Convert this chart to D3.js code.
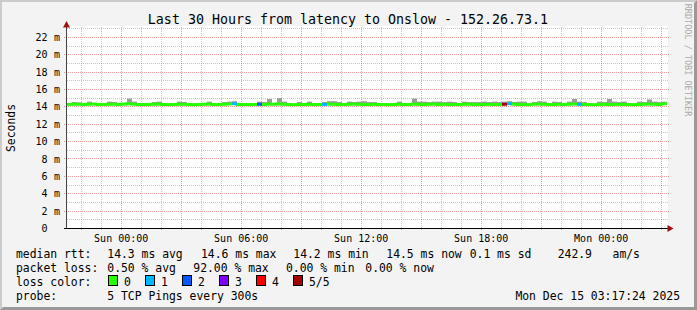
<!DOCTYPE html>
<html>
<head>
<meta charset="utf-8">
<script src="https://cdn.jsdelivr.net/npm/d3@7"></script>
<style>
  body { margin: 0; background: #fff; }
  svg { display: block; font-family: "DejaVu Sans Mono", monospace; }
  text { white-space: pre; }
</style>
</head>
<body>
<svg id="chart" width="697" height="310"></svg>
<script>
// time range of the graph (last 30 hours, 15 min bins)
const endTime = new Date(Date.UTC(2025, 11, 15, 3, 17, 24));
const hoursShown = 30;
const binMinutes = 15;

// median rtt per bin, ms
const median = [
  14.28, 14.30, 14.30, 14.26, 14.30, 14.33, 14.28, 14.26, 14.30, 14.30,
  14.28, 14.33, 14.36, 14.30, 14.28, 14.26, 14.28, 14.30, 14.33, 14.28,
  14.26, 14.28, 14.30, 14.30, 14.26, 14.24, 14.28, 14.30, 14.33, 14.28,
  14.26, 14.30, 14.33, 14.36, 14.28, 14.26, 14.26, 14.28, 14.30, 14.28,
  14.33, 14.30, 14.36, 14.30, 14.26, 14.24, 14.28, 14.26, 14.30, 14.28,
  14.26, 14.28, 14.33, 14.30, 14.28, 14.26, 14.30, 14.33, 14.30, 14.28,
  14.26, 14.30, 14.28, 14.26, 14.24, 14.26, 14.30, 14.28, 14.26, 14.33,
  14.30, 14.28, 14.30, 14.33, 14.28, 14.30, 14.26, 14.28, 14.26, 14.30,
  14.33, 14.28, 14.26, 14.28, 14.30, 14.28, 14.26, 14.30, 14.36, 14.33,
  14.28, 14.26, 14.24, 14.30, 14.33, 14.30, 14.26, 14.28, 14.30, 14.28,
  14.30, 14.33, 14.28, 14.26, 14.26, 14.24, 14.28, 14.30, 14.28, 14.26,
  14.30, 14.28, 14.26, 14.24, 14.28, 14.30, 14.33, 14.30, 14.28, 14.36
];

// slowest ping per bin (top of the smoke), ms
const smokeHi = [
  14.40, 14.55, 14.50, 14.40, 14.60, 14.40, 14.40, 14.40, 14.60, 14.55,
  14.40, 14.40, 14.95, 14.60, 14.40, 14.40, 14.40, 14.55, 14.60, 14.40,
  14.40, 14.40, 14.60, 14.55, 14.40, 14.40, 14.40, 14.40, 14.60, 14.40,
  14.40, 14.55, 14.60, 14.65, 14.40, 14.40, 14.40, 14.40, 14.60, 14.55,
  14.90, 14.40, 15.00, 14.60, 14.40, 14.40, 14.55, 14.40, 14.60, 14.40,
  14.40, 14.55, 14.65, 14.65, 14.55, 14.40, 14.60, 14.55, 14.60, 14.65,
  14.55, 14.55, 14.40, 14.40, 14.40, 14.40, 14.60, 14.40, 14.40, 14.95,
  14.60, 14.60, 14.55, 14.60, 14.60, 14.55, 14.60, 14.55, 14.40, 14.60,
  14.55, 14.55, 14.55, 14.60, 14.55, 14.60, 14.55, 14.60, 14.65, 14.55,
  14.60, 14.60, 14.40, 14.55, 14.65, 14.60, 14.40, 14.60, 14.55, 14.40,
  14.60, 14.90, 14.60, 14.55, 14.40, 14.40, 14.60, 14.55, 14.90, 14.60,
  14.55, 14.60, 14.40, 14.40, 14.60, 14.55, 14.85, 14.60, 14.55, 14.60
];

// lost pings per bin (out of 5), only the non zero ones
const lossBins = [33, 38, 51, 87, 88, 102];
const lossCounts = [1, 2, 1, 5, 1, 1];

const lossLabels = ["0", "1", "2", "3", "4", "5/5"];
const lossColors = ["#26ff00", "#00b8ff", "#0059ff", "#7e00ff", "#ff0000", "#a00000"];

const yTicks = [0, 2, 4, 6, 8, 10, 12, 14, 16, 18, 20, 22];
const yUnits = ["", "m", "m", "m", "m", "m", "m", "m", "m", "m", "m", "m"];
const xLabels = ["Sun 00:00", "Sun 06:00", "Sun 12:00", "Sun 18:00", "Mon 00:00"];

const titleText = "Last 30 Hours from latency to Onslow - 152.26.73.1";
const rttStats = ["14.3 ms avg", "14.6 ms max", "14.2 ms min", "14.5 ms now", "0.1 ms sd", "242.9   am/s"];
const lossStats = ["0.50 % avg", "92.00 % max", "0.00 % min", "0.00 % now"];
const probeText = "5 TCP Pings every 300s";
const stampText = "Mon Dec 15 03:17:24 2025";

const W = 697, H = 310;
const svg = d3.select("#chart");

const startTime = new Date(+endTime - hoursShown * 3600e3);
const x = d3.scaleUtc().domain([startTime, endTime]).range([67, 667]);
const y = d3.scaleLinear().domain([0, 23]).range([228.5, 28.63]);
const crisp = v => Math.round(v - 0.5) + 0.5;

// frame
svg.append("rect").attr("width", W).attr("height", H).attr("fill", "#f3f3f3");
svg.append("path").attr("fill", "#cbcbcb")
  .attr("d", `M0,0H${W}L${W - 2},2H2V${H - 2}L0,${H}Z`);
svg.append("path").attr("fill", "#999")
  .attr("d", `M${W},0V${H}H0L3,${H - 3}H${W - 3}V3Z`);

svg.append("rect").attr("x", 67).attr("y", 26).attr("width", 601).attr("height", 203).attr("fill", "#fff");

// grid
const gridG = svg.append("g").attr("shape-rendering", "crispEdges").attr("stroke-dasharray", "1,1");
const minorCol = "rgba(128,128,128,0.45)", majorCol = "rgba(255,0,0,0.38)";

d3.range(1, 24).filter(v => v % 2 === 1).forEach(v => {
  gridG.append("line").attr("x1", 67).attr("x2", 668)
    .attr("y1", crisp(y(v))).attr("y2", crisp(y(v))).attr("stroke", minorCol);
});
yTicks.filter(v => v > 0).forEach(v => {
  gridG.append("line").attr("x1", 64).attr("x2", 670)
    .attr("y1", crisp(y(v))).attr("y2", crisp(y(v))).attr("stroke", majorCol);
});

const hours = d3.utcHour.every(1).range(startTime, endTime);
hours.forEach(t => {
  const major = t.getUTCHours() % 3 === 0;
  gridG.append("line")
    .attr("x1", crisp(x(t))).attr("x2", crisp(x(t)))
    .attr("y1", 27).attr("y2", major ? 231 : 230)
    .attr("stroke", major ? majorCol : minorCol);
});

// smoke
const binTimes = median.map((_, i) => new Date(+startTime + i * binMinutes * 60e3));
const binEnd = i => new Date(+startTime + (i + 1) * binMinutes * 60e3);

svg.append("g").selectAll("rect").data(median).join("rect")
  .attr("x", (d, i) => x(binTimes[i]))
  .attr("width", (d, i) => x(binEnd(i)) - x(binTimes[i]))
  .attr("y", (d, i) => y(smokeHi[i]))
  .attr("height", (d, i) => y(d) - y(smokeHi[i]))
  .attr("fill", "#9c9c9c");

// median line coloured by loss
const lossOf = i => {
  const k = lossBins.indexOf(i);
  return k < 0 ? 0 : lossCounts[k];
};
const medG = svg.append("g").attr("fill", "none").attr("stroke-width", 3);
median.forEach((d, i) => {
  const prev = i > 0 ? median[i - 1] : d;
  if (lossOf(i) === 0) {
    medG.append("path")
      .attr("d", `M${x(binTimes[i])},${y(prev)}V${y(d)}H${x(binEnd(i))}`)
      .attr("stroke", lossColors[0]);
  }
});
median.forEach((d, i) => {
  if (lossOf(i) > 0) {
    medG.append("path")
      .attr("d", `M${x(binTimes[i])},${y(d)}H${x(binEnd(i))}`)
      .attr("stroke", lossColors[lossOf(i)]);
  }
});

// axes
svg.append("line").attr("x1", 66.5).attr("x2", 66.5).attr("y1", 27).attr("y2", 229)
  .attr("stroke", "#444");
svg.append("line").attr("x1", 64).attr("x2", 668).attr("y1", 228.5).attr("y2", 228.5)
  .attr("stroke", "#000");
svg.append("path").attr("fill", "#a01010").attr("d", "M66.5,21L70,27.5H63Z");
svg.append("path").attr("fill", "#a01010").attr("d", "M673.5,228.5L667.5,225V232Z");

// y labels
const yl = svg.append("g").attr("font-size", 10).attr("fill", "#000");
yTicks.forEach((v, i) => {
  yl.append("text").attr("x", 47.5).attr("y", y(v) + 3.6).attr("text-anchor", "end").text(v);
  if (yUnits[i]) yl.append("text").attr("x", 54).attr("y", y(v) + 3.6).text(yUnits[i]);
});

// x labels
const fmt = d3.utcFormat("%a %H:%M");
d3.utcHour.every(6).range(startTime, endTime).forEach(t => {
  const lab = fmt(t);
  if (xLabels.includes(lab)) {
    svg.append("text").attr("x", x(t)).attr("y", 241.5).attr("text-anchor", "middle")
      .attr("font-size", 10).text(lab);
  }
});

// titles
svg.append("text").attr("x", 348).attr("y", 23.5).attr("text-anchor", "middle")
  .attr("font-size", 13.3).text(titleText);
svg.append("text").attr("transform", "translate(14.5,128) rotate(-90)")
  .attr("text-anchor", "middle").attr("font-size", 11.4).text("Seconds");
svg.append("text").attr("transform", "translate(685,60) rotate(90)")
  .attr("text-anchor", "middle").attr("font-size", 8.5).attr("fill", "#aaa")
  .text("RRDTOOL / TOBI OETIKER");

// legend
const lg = svg.append("g").attr("font-size", 11.4).attr("fill", "#000");
const put = (tx, px, py, anchor) =>
  lg.append("text").attr("x", px).attr("y", py).attr("text-anchor", anchor || "start").text(tx);

put("median rtt:", 16, 258);
[107.3, 201, 293.3, 386.3, 469.7, 557.7].forEach((px, i) => put(rttStats[i], px, 258));

put("packet loss:", 16, 272);
[107.3, 193.3, 286, 365.3].forEach((px, i) => put(lossStats[i], px, 272));

put("loss color:", 16, 286);
lossLabels.forEach((l, i) => {
  const bx = 108.5 + i * 37;
  lg.append("rect").attr("x", bx).attr("y", 275.5).attr("width", 9).attr("height", 10)
    .attr("fill", lossColors[i]).attr("stroke", "#000").attr("stroke-width", 1);
  put(l, bx + 15.5, 286);
});

put("probe:", 16, 300);
put(probeText, 107.3, 300);
put(stampText, 680, 300, "end");
</script>
</body>
</html>
